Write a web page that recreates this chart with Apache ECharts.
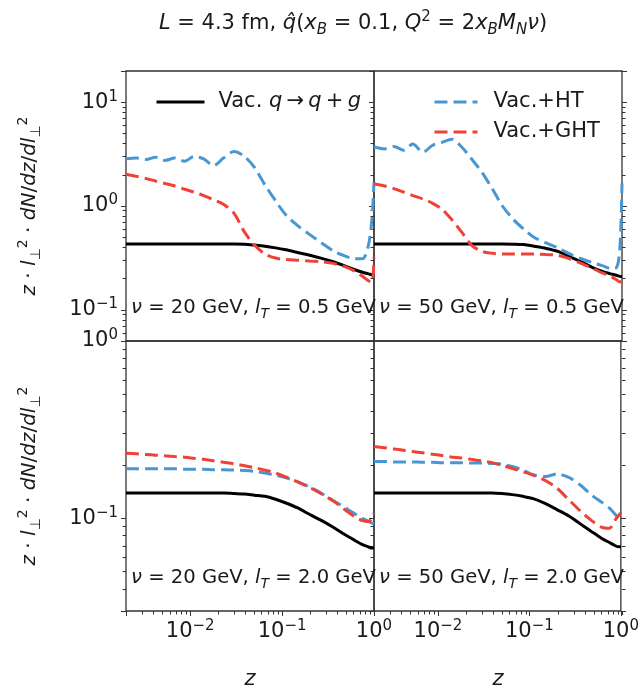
<!DOCTYPE html>
<html><head><meta charset="utf-8">
<script src="https://cdn.jsdelivr.net/npm/echarts@6/dist/echarts.min.js"></script>
<style>html,body{margin:0;padding:0;background:#fff}#c{width:642px;height:694px}</style>
</head><body><div id="c"></div>
<script>
// ---------- data ----------
const zGrid = [0.002, 0.0026, 0.0033, 0.0042, 0.0053, 0.0068, 0.0087, 0.011, 0.014, 0.018, 0.023, 0.03, 0.039, 0.05, 0.065, 0.085, 0.11, 0.15, 0.2, 0.27, 0.36, 0.48, 0.62, 0.75, 0.87, 0.95, 1.0];

// nu = 20 GeV, lT = 0.5 GeV
const vac_20_05 = [0.43,0.43,0.43,0.43,0.43,0.43,0.43,0.43,0.43,0.43,0.43,0.43,0.428,0.42,0.41,0.395,0.378,0.355,0.335,0.313,0.29,0.265,0.243,0.23,0.222,0.217,0.215];
const ht_20_05  = [2.85,2.9,2.8,2.95,2.75,2.9,2.7,3.0,2.85,2.45,2.9,3.35,3.0,2.35,1.6,1.12,0.82,0.64,0.53,0.44,0.37,0.33,0.31,0.31,0.42,0.75,1.7];
const ght_20_05 = [2.02,1.93,1.84,1.74,1.65,1.56,1.45,1.36,1.26,1.15,1.04,0.85,0.56,0.42,0.345,0.315,0.305,0.30,0.295,0.29,0.28,0.26,0.235,0.21,0.19,0.185,0.32];
// nu = 50 GeV, lT = 0.5 GeV
const vac_50_05 = [0.43,0.43,0.43,0.43,0.43,0.43,0.43,0.43,0.43,0.43,0.43,0.43,0.43,0.43,0.429,0.425,0.41,0.39,0.365,0.325,0.29,0.255,0.233,0.222,0.215,0.21,0.208];
const ht_50_05  = [3.7,3.55,3.75,3.45,3.95,3.3,3.85,4.1,4.4,3.7,2.85,2.1,1.45,1.0,0.75,0.6,0.5,0.44,0.395,0.345,0.31,0.285,0.265,0.25,0.255,0.4,1.65];
const ght_50_05 = [1.64,1.56,1.47,1.36,1.26,1.17,1.06,0.93,0.74,0.56,0.42,0.365,0.35,0.345,0.345,0.345,0.345,0.34,0.335,0.31,0.28,0.25,0.225,0.21,0.195,0.185,0.19];
// nu = 20 GeV, lT = 2.0 GeV
const vac_20_20 = [0.139,0.139,0.139,0.139,0.139,0.139,0.139,0.139,0.139,0.139,0.139,0.138,0.137,0.135,0.133,0.128,0.122,0.114,0.105,0.097,0.089,0.081,0.075,0.071,0.069,0.068,0.068];
const ht_20_20  = [0.19,0.19,0.19,0.19,0.19,0.19,0.189,0.189,0.189,0.188,0.188,0.187,0.186,0.184,0.18,0.175,0.169,0.16,0.15,0.138,0.126,0.115,0.106,0.1,0.096,0.094,0.093];
const ght_20_20 = [0.233,0.231,0.229,0.227,0.225,0.223,0.221,0.218,0.215,0.211,0.207,0.203,0.198,0.193,0.187,0.18,0.171,0.16,0.149,0.137,0.125,0.112,0.102,0.097,0.096,0.1,0.107];
// nu = 50 GeV, lT = 2.0 GeV
const vac_50_20 = [0.139,0.139,0.139,0.139,0.139,0.139,0.139,0.139,0.139,0.139,0.139,0.139,0.139,0.138,0.136,0.133,0.129,0.121,0.112,0.103,0.093,0.084,0.077,0.073,0.07,0.069,0.069];
const ht_50_20  = [0.209,0.209,0.208,0.208,0.208,0.207,0.207,0.206,0.206,0.206,0.205,0.205,0.204,0.202,0.196,0.187,0.176,0.172,0.178,0.17,0.154,0.135,0.123,0.114,0.105,0.1,0.1];
const ght_50_20 = [0.254,0.25,0.246,0.242,0.238,0.234,0.23,0.226,0.222,0.219,0.215,0.211,0.206,0.199,0.191,0.183,0.175,0.163,0.148,0.127,0.11,0.097,0.089,0.088,0.098,0.104,0.107];

const seriesNames = ['Vac. q→q+g', 'Vac.+HT', 'Vac.+GHT'];
const panelNotes = [
  ['20', '0.5'], ['50', '0.5'], ['20', '2.0'], ['50', '2.0']
];
const zRange = [0.002, 1];
const yRangeTop = [0.05, 20];
const yRangeBottom = [0.03, 1];
const minorMultipliers = [2, 3, 4, 5, 6, 7, 8, 9];

// ---------- style ----------
const FONT = 'DejaVu Sans';
const TXT = '#1a1a1a';
const FRAME = '#333333';
const C_VAC = '#000000', C_HT = '#4896d2', C_GHT = '#ef4136';

const panels = [
  {left: 126, top: 71,  vac: vac_20_05, ht: ht_20_05, ght: ght_20_05, yr: yRangeTop,    showY: true,  showX: false, rightTicks: false},
  {left: 374, top: 71,  vac: vac_50_05, ht: ht_50_05, ght: ght_50_05, yr: yRangeTop,    showY: false, showX: false, rightTicks: true},
  {left: 126, top: 341, vac: vac_20_20, ht: ht_20_20, ght: ght_20_20, yr: yRangeBottom, showY: true,  showX: true,  rightTicks: false},
  {left: 374, top: 341, vac: vac_50_20, ht: ht_50_20, ght: ght_50_20, yr: yRangeBottom, showY: false, showX: true,  rightTicks: true}
];
const PW = 248, PH = 270;

function pow10Label(v) {
  const e = Math.round(Math.log10(v));
  if (Math.abs(v / Math.pow(10, e) - 1) > 1e-6) return '';
  return '{b|10}{s|' + (e < 0 ? '\u2212' + (-e) : e) + '}';
}
const tickRich = {
  b: {fontSize: 21, fontFamily: FONT, color: TXT, lineHeight: 26},
  s: {fontSize: 15, fontFamily: FONT, color: TXT, verticalAlign: 'top', lineHeight: 26}
};
const noAxisDeco = {axisLine: {show: false}, splitLine: {show: false}, axisLabel: {show: false}};

const grids = [], xAxes = [], yAxes = [], series = [];
panels.forEach((p, i) => {
  grids.push({left: p.left, top: p.top, width: PW, height: PH, show: true, borderColor: FRAME, borderWidth: 1.3, backgroundColor: 'transparent'});
  xAxes.push({
    type: 'log', gridIndex: i, min: zRange[0], max: zRange[1],
    axisLine: {show: false}, splitLine: {show: false},
    axisTick: {show: p.showX, inside: false, length: 5, lineStyle: {color: FRAME, width: 1}},
    axisLabel: {show: p.showX, margin: 8, formatter: pow10Label, rich: tickRich, showMinLabel: true, showMaxLabel: true}
  });
  yAxes.push({
    type: 'log', gridIndex: i, min: p.yr[0], max: p.yr[1], position: 'left',
    axisLine: {show: false}, splitLine: {show: false},
    axisTick: {show: true, inside: false, length: 5, lineStyle: {color: FRAME, width: 1}},
    axisLabel: {show: p.showY, margin: 8, formatter: pow10Label, rich: tickRich, showMinLabel: true, showMaxLabel: true}
  });
});
// right-side y ticks for right panels
[1, 3].forEach(i => {
  const p = panels[i];
  yAxes.push(Object.assign({
    type: 'log', gridIndex: i, min: p.yr[0], max: p.yr[1], position: 'right',
    axisTick: {show: true, inside: false, length: 5, lineStyle: {color: FRAME, width: 1}}
  }, noAxisDeco));
});

// minor log ticks: for each multiplier m, an overlaid log axis spanning [min/m, max/m]
// puts its decade ticks exactly at m*10^k of the main axis.
const minorTick = {show: true, inside: false, length: 3.5, lineStyle: {color: FRAME, width: 1}};
panels.forEach((p, i) => {
  minorMultipliers.forEach(m => {
    const g = grids.length;
    grids.push({left: p.left, top: p.top, width: PW, height: PH, show: false});
    xAxes.push(Object.assign({type: 'log', gridIndex: g, min: zRange[0] / m, max: zRange[1] / m, position: 'bottom',
      show: p.showX, axisTick: minorTick}, noAxisDeco));
    yAxes.push(Object.assign({type: 'log', gridIndex: g, min: p.yr[0] / m, max: p.yr[1] / m, position: 'left',
      axisTick: minorTick}, noAxisDeco));
    if (p.rightTicks) yAxes.push(Object.assign({type: 'log', gridIndex: g, min: p.yr[0] / m, max: p.yr[1] / m,
      position: 'right', axisTick: minorTick}, noAxisDeco));
  });
});

const lineDefs = [
  {key: 'vac', name: seriesNames[0], color: C_VAC, type: 'solid'},
  {key: 'ht', name: seriesNames[1], color: C_HT, type: [13, 6]},
  {key: 'ght', name: seriesNames[2], color: C_GHT, type: [13, 6]}
];
panels.forEach((p, i) => {
  lineDefs.forEach(d => {
    series.push({
      type: 'line', name: d.name, xAxisIndex: i, yAxisIndex: i,
      data: zGrid.map((z, k) => [z, p[d.key][k]]),
      symbol: 'none', smooth: 0.3,
      lineStyle: {color: d.color, width: 3, type: d.type, cap: 'butt'},
      itemStyle: {color: d.color},
      emphasis: {disabled: true}, silent: true, z: 3
    });
  });
});

// ---------- text ----------
function richZ(size) {
  const base = {fontFamily: FONT, fill: TXT};
  return {
    i: Object.assign({fontSize: size, fontStyle: 'italic'}, base),
    sub: Object.assign({fontSize: Math.round(size * 0.7), fontStyle: 'italic', verticalAlign: 'bottom'}, base),
    subn: Object.assign({fontSize: Math.round(size * 0.7), verticalAlign: 'bottom'}, base),
    sup: Object.assign({fontSize: Math.round(size * 0.7), verticalAlign: 'top'}, base)
  };
}
function textEl(x, y, text, size, opts) {
  return Object.assign({
    type: 'text', x: x, y: y, silent: true, z: 10,
    style: {text: text, fontSize: size, fontFamily: FONT, fill: TXT, lineHeight: Math.round(size * 1.35),
            align: 'center', verticalAlign: 'middle', rich: richZ(size)}
  }, opts || {});
}
const graphics = [];
graphics.push(textEl(353, 24, '{i|L} = 4.3 fm, {i|q\u0302}({i|x}{sub|B} = 0.1, {i|Q}{sup|2} = 2{i|x}{sub|B}{i|M}{sub|N}{i|\u03bd})', 21));
const yLab = '{i|z} \u00b7 {i|l}{subn|\u22a5}{sup|2} \u00b7 {i|dN}/{i|dz}/{i|dl}{subn|\u22a5}{sup|2}';
graphics.push(textEl(30, 206, yLab, 20, {rotation: Math.PI / 2}));
graphics.push(textEl(30, 476, yLab, 20, {rotation: Math.PI / 2}));
graphics.push(textEl(250, 680, '{i|z}', 21));
graphics.push(textEl(498, 680, '{i|z}', 21));
panels.forEach((p, i) => {
  const n = panelNotes[i];
  const t = '{i|\u03bd} = ' + n[0] + ' GeV, {i|l}{sub|T} = ' + n[1] + ' GeV';
  const el = textEl(p.left + 5, p.top + 237, t, 19.6);
  el.style.align = 'left';
  graphics.push(el);
});

const chart = echarts.init(document.getElementById('c'), null, {renderer: 'canvas'});
chart.setOption({
  animation: false,
  backgroundColor: '#ffffff',
  grid: grids, xAxis: xAxes, yAxis: yAxes, series: series,
  legend: [
    {
      data: [seriesNames[0]], left: 155, top: 90, padding: 0, selectedMode: false,
      itemWidth: 48, itemHeight: 14,
      itemStyle: {opacity: 0}, lineStyle: {width: 3},
      formatter: () => 'Vac. {i|q}\u2009\u2192\u2009{i|q}\u2009+\u2009{i|g}',
      textStyle: {fontSize: 21, fontFamily: FONT, color: TXT, lineHeight: 24, padding: [0, 0, 0, 9],
                  rich: {i: {fontSize: 21, fontFamily: FONT, fontStyle: 'italic', color: TXT, lineHeight: 24}}}
    },
    {
      data: [seriesNames[1], seriesNames[2]], left: 433, top: 90, padding: 0, orient: 'vertical', itemGap: 6,
      selectedMode: false, itemWidth: 43, itemHeight: 14,
      itemStyle: {opacity: 0}, lineStyle: {width: 3},
      textStyle: {fontSize: 21, fontFamily: FONT, color: TXT, lineHeight: 24, padding: [0, 0, 0, 11]}
    }
  ],
  graphic: graphics
});
</script>
</body></html>
